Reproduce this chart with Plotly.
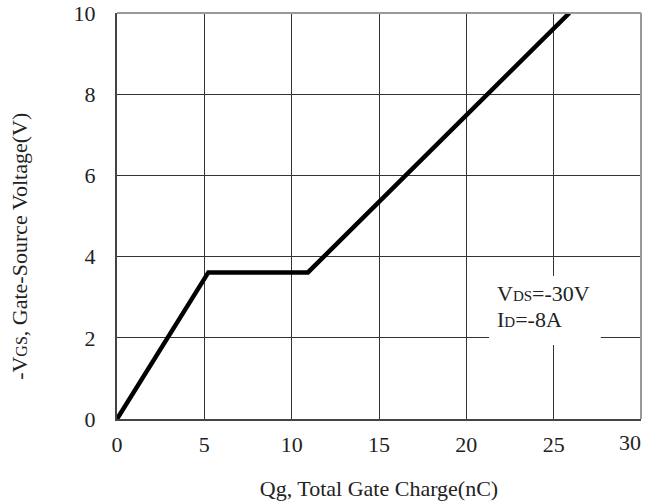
import plotly.graph_objects as go

# Data
qg_nc = [0, 5.23, 10.93, 25.9]
vgs_v = [0, 3.61, 3.61, 10.0]

x_ticks = [0, 5, 10, 15, 20, 25, 30]
x_tick_labels = ["0", "5", "10", "15", "20", "25", ""]   # "30" placed separately (shifted inside)
y_ticks = [0, 2, 4, 6, 8, 10]

FONT = "Liberation Serif"
TXT = "#222"

fig = go.Figure()
fig.add_trace(go.Scatter(x=qg_nc, y=vgs_v, mode="lines",
                         line=dict(color="black", width=4.5),
                         showlegend=False, hoverinfo="skip", cliponaxis=True))

fig.update_layout(
    width=653, height=502,
    margin=dict(l=117, r=12, t=13, b=83),
    plot_bgcolor="white", paper_bgcolor="white",
    font=dict(family=FONT, size=22, color=TXT),
    xaxis=dict(range=[0, 30], tickvals=x_ticks, ticktext=x_tick_labels,
               showgrid=True, automargin=False,
               gridcolor="#333", gridwidth=1, zeroline=False,
               showline=True, linecolor="#444", linewidth=2,
               ticks="", ticklabelstandoff=5,
               title=dict(text="Qg, Total Gate Charge(nC)", font=dict(size=22), standoff=24)),
    yaxis=dict(range=[0, 10], tickvals=y_ticks, showgrid=True, automargin=False,
               gridcolor="#333", gridwidth=1, zeroline=False,
               showline=True, linecolor="#444", linewidth=2,
               ticks="", ticklabelstandoff=15),
    shapes=[
        dict(type="line", xref="paper", yref="paper", x0=0, x1=1, y0=1, y1=1,
             line=dict(color="#999", width=2)),
        dict(type="line", xref="paper", yref="paper", x0=1, x1=1, y0=0, y1=1,
             line=dict(color="#999", width=2)),
        dict(type="rect", xref="x", yref="y", x0=21.3, x1=27.7, y0=1.82, y1=3.52,
             fillcolor="white", line=dict(width=0), layer="above"),
    ],
    annotations=[
        dict(text="30", xref="x", yref="paper", x=30, y=0, xanchor="right",
             yanchor="middle", xshift=2, yshift=-23, showarrow=False,
             font=dict(size=22, color=TXT)),
        dict(text='V<span style="font-size:15px">DS</span>=-30V',
             xref="x", yref="y", x=21.64, y=3.08, xanchor="left", yanchor="middle",
             showarrow=False, font=dict(size=22, color=TXT)),
        dict(text='I<span style="font-size:15px">D</span>=-8A',
             xref="x", yref="y", x=21.64, y=2.46, xanchor="left", yanchor="middle",
             showarrow=False, font=dict(size=22, color=TXT)),
        dict(text='-V<span style="font-size:16px">GS</span>, Gate-Source Voltage(V)',
             xref="paper", yref="paper", x=(20 - 117) / 524, y=0.424, xanchor="center",
             yanchor="middle", textangle=-90, showarrow=False,
             font=dict(size=22, color=TXT)),
    ],
)

# remove the browser's default 8px page margin so the figure sits at the window origin
fig.write_html("out.html", config={"displayModeBar": False},
               post_script="document.body.style.margin='0';")
